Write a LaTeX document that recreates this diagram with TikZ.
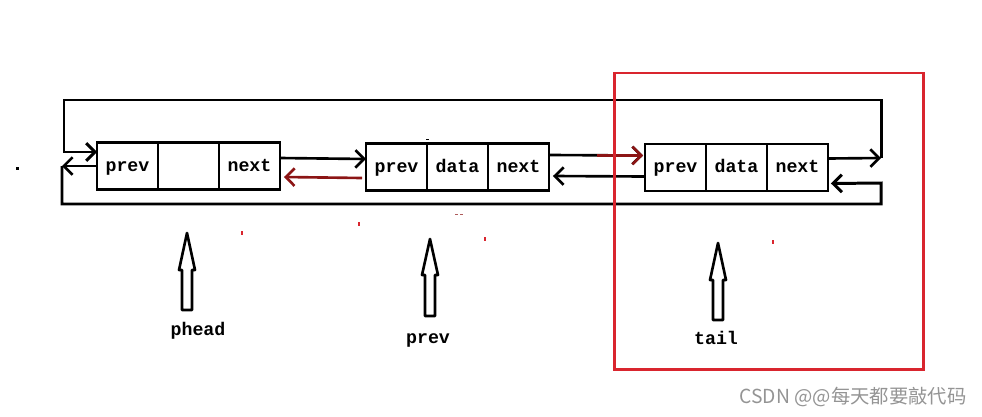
\documentclass[tikz,border=0pt]{standalone}
\usepackage{fontspec}
\setmonofont{Liberation Mono}
\newfontfamily\cjk{Noto Sans CJK SC}
\usepackage{tikz}
\usetikzlibrary{arrows.meta,positioning,calc}
\definecolor{boxred}{HTML}{D9252E}
\definecolor{linkred}{HTML}{8C1515}

\begin{document}
\begin{tikzpicture}[x=0.02cm, y=-0.02cm,
    >={Straight Barb[length=5pt,width=10pt]},
    cell/.style={draw, line width=1.6pt, minimum width=1.22cm, minimum height=0.94cm,
      inner sep=0pt, outer sep=0pt, text height=1.6ex, text depth=0.2ex,
      font=\fontsize{10.4}{12}\selectfont\ttfamily\bfseries},
    link/.style={->, line width=1.5pt},
    loop/.style={line width=1.7pt},
    ptr/.style={draw, line width=1.5pt, line join=round},
    lbl/.style={font=\fontsize{10.4}{12}\selectfont\ttfamily\bfseries}]
    \useasboundingbox (0,0) rectangle (982,416);

    % Nodes
    \node[cell] (prev1) at (127.5,166) {prev};
    \node[cell, right=0pt of prev1] (data1) {};
    \node[cell, right=0pt of data1] (next1) {next};

    \node[cell] (prev2) at (396.5,167) {prev};
    \node[cell, right=0pt of prev2] (data2) {data};
    \node[cell, right=0pt of data2] (next2) {next};

    \node[cell] (prev3) at (675.5,167.5) {prev};
    \node[cell, right=0pt of prev3] (data3) {data};
    \node[cell, right=0pt of data3] (next3) {next};

    % Corners of the loop
    \coordinate (topR) at (881,158);
    \coordinate (topL) at (64,100);
    \coordinate (botL) at (62,166);
    \coordinate (botB) at (881,204);
    \coordinate (botR) at (881,183);

    % Paths
    \draw[link] ($(next1.east)+(0,-8)$) -- ($(prev2.west)+(0,-8)$);
    \draw[link, linkred] ($(prev2.west)+(-4,11)$) -- ($(next1.east)+(4,11)$);
    \draw[link] ($(next2.east)+(0,-12)$) -- ($(prev3.west)+(-2,-12)$);
    \draw[link, linkred] ($(prev3.west)+(-48,-12)$) -- ($(prev3.west)+(-2,-12)$);
    \draw[link] ($(prev3.west)+(0,9)$) -- ($(next2.east)+(4,9)$);

    \draw[link] ($(next3.east)+(0,-9)$) -- (topR);
    \draw[loop, ->] (topR) |- (topL) |- ($(prev1.west)+(0,-14)$);
    \draw[link] ($(prev1.west)+(0,0)$) -- (botL);
    \draw[loop, ->] (botL) |- (botB) -- (botR) -- ($(next3.east)+(3,16)$);

    % tail frame
    \draw[boxred, line width=1.7pt] (614,73) rectangle (923,369);

    % Pointers
    \foreach \x/\t/\h/\b/\nm/\lx/\ly in {187/233/270/310/phead/198/331,
        430/239/275/316/prev/428/340, 718/243/280/320/tail/716/338} {
      \draw[ptr] (\x,\t) -- (\x+8,\h) -- (\x+5,\h) -- (\x+5,\b) -- (\x-5,\b)
        -- (\x-5,\h) -- (\x-8,\h) -- cycle;
      \node[lbl] (lbl-\nm) at (\lx,\ly) {\nm};
    }

    % stray marks
    \fill (16,166.5) rectangle (19,169.5);
    \fill (426,138.5) rectangle (429,140);
    \foreach \x/\y in {242/233, 359/224, 485/239, 773/242}
      \fill[boxred] (\x-1.2,\y-2) rectangle (\x+1.2,\y+2);
    \fill[linkred!70] (455,213.5) rectangle (458,215);
    \fill[linkred!70] (460,213.5) rectangle (463,215);

    \node[font=\cjk\fontsize{11}{13}\selectfont, text=black!42] (mark) at (853,397) {CSDN @@每天都要敲代码};
  \end{tikzpicture}
\end{document}
